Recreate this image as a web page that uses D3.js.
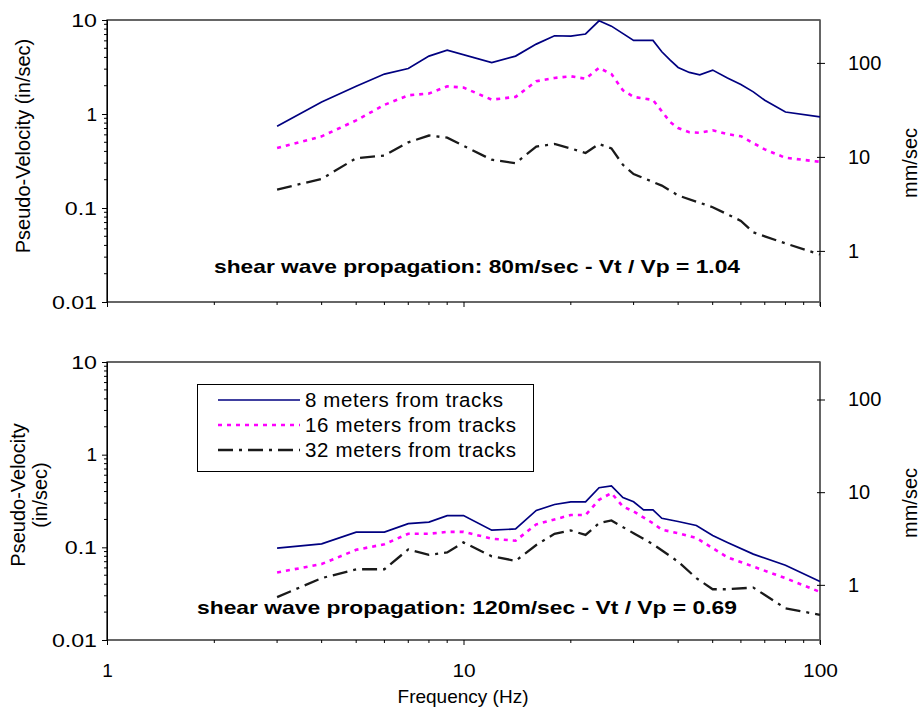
<!DOCTYPE html>
<html><head><meta charset="utf-8">
<script src="https://cdn.jsdelivr.net/npm/d3@7"></script>
<style>
body{margin:0;background:#fff;}
text{font-family:Arial,"Liberation Sans",sans-serif;fill:#000;}
</style></head>
<body><svg id="c" width="920" height="711"></svg>
<script>
// ---- data ----
const seriesNames = ["8 meters from tracks","16 meters from tracks","32 meters from tracks"];
const yTicks = [0.01,0.1,1,10];
const yTickLabels = ["0.01","0.1","1","10"];
const rightTicks = [1,10,100];
const xTicks = [1,10,100];
const topRightDomain = [0.286,286];
const bottomRightDomain = [0.254,254];
const topTitle = "shear wave propagation: 80m/sec - Vt / Vp = 1.04";
const bottomTitle = "shear wave propagation: 120m/sec - Vt / Vp = 0.69";

const top8Freq = [3,4,5,6,7,8,9,12,14,16,18,20,22,24,26,30,34,36,38,40,43,46,50,55,60,65,70,80,100];
const top8Val  = [0.74,1.34,1.97,2.66,3.05,4.13,4.78,3.53,4.13,5.54,6.8,6.75,7.1,9.8,8.6,6.07,6.07,4.59,3.74,3.13,2.77,2.61,2.93,2.42,2.06,1.72,1.40,1.05,0.93];
const top16Freq = [3,4,5,6,7,8,9,10,12,14,16,18,20,22,24,26,28,30,34,38,40,43,46,50,55,60,65,70,80,100];
const top16Val  = [0.434,0.578,0.855,1.25,1.58,1.65,1.97,1.91,1.42,1.52,2.23,2.42,2.52,2.37,3.1,2.66,1.79,1.52,1.41,0.82,0.71,0.64,0.63,0.67,0.61,0.58,0.49,0.42,0.342,0.31];
const top32Freq = [3,4,5,6,7,8,9,12,14,16,18,20,22,24,26,28,30,36,40,50,60,65,70,80,100];
const top32Val  = [0.157,0.204,0.339,0.362,0.50,0.59,0.56,0.326,0.30,0.45,0.48,0.43,0.384,0.48,0.43,0.288,0.23,0.173,0.136,0.102,0.073,0.055,0.05,0.042,0.032];

const bot8Freq = [3,4,5,6,7,8,9,10,12,14,16,18,20,22,24,26,28,30,32,34,36,40,45,50,55,65,80,100];
const bot8Val  = [0.098,0.109,0.146,0.146,0.18,0.187,0.22,0.22,0.153,0.158,0.25,0.29,0.31,0.31,0.44,0.46,0.345,0.31,0.254,0.254,0.206,0.19,0.172,0.134,0.113,0.0845,0.064,0.0428];
const bot16Freq = [3,4,5,6,7,8,9,10,12,14,16,18,20,22,24,26,28,30,34,36,40,45,50,55,65,80,100];
const bot16Val  = [0.0535,0.066,0.094,0.108,0.14,0.14,0.147,0.147,0.124,0.118,0.177,0.20,0.223,0.223,0.326,0.385,0.276,0.244,0.182,0.155,0.142,0.126,0.098,0.078,0.062,0.0465,0.033];
const bot32Freq = [3,4,5,6,7,8,9,10,12,14,16,18,20,22,24,26,30,34,40,45,50,55,65,80,100];
const bot32Val  = [0.029,0.0465,0.058,0.058,0.095,0.083,0.088,0.113,0.080,0.0715,0.106,0.14,0.152,0.136,0.182,0.195,0.142,0.108,0.070,0.0465,0.0353,0.0353,0.0368,0.022,0.0187];

// ---- layout ----
const svg = d3.select("#c");
const L = 107, R = 820;
const x = d3.scaleLog().domain([1,100]).range([L,R]);
const styles = [
  {stroke:"#000080", width:1.7, dash:null},
  {stroke:"#ff00ff", width:2.6, dash:"4,5"},
  {stroke:"#1a1a1a", width:2.3, dash:"15,6,3,6"}
];
const minorY = [];
for (let d=0.01; d<10; d*=10) for (let k=2;k<=9;k++) minorY.push(+(d*k).toPrecision(3));
const minorX = [];
for (let d=1; d<100; d*=10) for (let k=2;k<=9;k++) minorX.push(d*k);

function widen(sel, factor){
  sel.each(function(){
    const n = this.getComputedTextLength();
    if (this.textContent.length > 1) d3.select(this).attr("textLength", n*factor).attr("lengthAdjust","spacingAndGlyphs");
  });
}

function panel(top, bottom, rightDomain, data, title, titleX, titleY, titleLen, yTitleLines, showXLabels, legend){
  const y = d3.scaleLog().domain([0.01,10]).range([bottom, top]);
  const yr = d3.scaleLog().domain(rightDomain).range([bottom, top]);
  const g = svg.append("g");
  // frame
  g.append("rect").attr("x",L).attr("y",top).attr("width",R-L).attr("height",bottom-top)
    .attr("fill","none").attr("stroke","#000").attr("stroke-width",1.2);
  g.append("line").attr("x1",R).attr("x2",R).attr("y1",top).attr("y2",bottom+4).attr("stroke","#666").attr("stroke-width",1.5);
  // left axis
  const la = d3.axisLeft(y).tickValues(yTicks).tickFormat((d,i)=>yTickLabels[i]).tickSize(5).tickPadding(5);
  const lg = g.append("g").attr("transform",`translate(${L},0)`).call(la);
  lg.select(".domain").attr("stroke","#000");
  lg.selectAll("text").attr("font-size",19).style("font-family","Arial, 'Liberation Sans'");
  widen(lg.selectAll("text"), 1.22);
  g.append("g").selectAll("line").data(minorY).join("line")
    .attr("x1",L-3).attr("x2",L).attr("y1",d=>y(d)).attr("y2",d=>y(d)).attr("stroke","#000");
  // right axis
  const ra = d3.axisRight(yr).tickValues(rightTicks).tickFormat(d3.format("d")).tickSize(8).tickPadding(23);
  const rg = g.append("g").attr("transform",`translate(${R-3},0)`).call(ra);
  rg.select(".domain").remove();
  rg.selectAll("text").attr("font-size",20).style("font-family","Arial, 'Liberation Sans'");
  // bottom axis
  const ba = d3.axisBottom(x).tickValues(xTicks).tickFormat(showXLabels? d3.format("d") : "").tickSize(5).tickPadding(19);
  const bg = g.append("g").attr("transform",`translate(0,${bottom})`).call(ba);
  bg.select(".domain").remove();
  bg.selectAll("text").attr("font-size",19).style("font-family","Arial, 'Liberation Sans'");
  widen(bg.selectAll("text"), 1.1);
  g.append("g").selectAll("line").data(minorX).join("line")
    .attr("x1",d=>x(d)).attr("x2",d=>x(d)).attr("y1",bottom).attr("y2",bottom+3).attr("stroke","#000");
  // series
  const line = d3.line().x(d=>x(d[0])).y(d=>y(d[1]));
  data.forEach((s,i)=>{
    const pts = s.f.map((f,j)=>[f,s.v[j]]);
    g.append("path").attr("d",line(pts)).attr("fill","none")
      .attr("stroke",styles[i].stroke).attr("stroke-width",styles[i].width)
      .attr("stroke-dasharray",styles[i].dash);
  });
  // annotation
  g.append("text").attr("x",titleX).attr("y",titleY).attr("font-size",19).attr("font-weight","bold")
    .attr("textLength",titleLen).attr("lengthAdjust","spacingAndGlyphs").text(title);
  // y titles
  const cy = (top+bottom)/2;
  if (yTitleLines.length===1){
    g.append("text").attr("transform",`translate(30,${cy-15}) rotate(-90)`)
      .attr("text-anchor","middle").attr("font-size",20).text(yTitleLines[0]);
  } else {
    yTitleLines.forEach((t,i)=>{
      g.append("text").attr("transform",`translate(${25+i*22},${cy-6}) rotate(-90)`)
        .attr("text-anchor","middle").attr("font-size",20).text(t);
    });
  }
  g.append("text").attr("transform",`translate(917,${cy+2}) rotate(-90)`)
    .attr("text-anchor","middle").attr("font-size",20).text("mm/sec");
  if (legend){
    const lgd = g.append("g");
    lgd.append("rect").attr("x",197.5).attr("y",384.5).attr("width",336).attr("height",87)
      .attr("fill","#fff").attr("stroke","#000").attr("stroke-width",1);
    seriesNames.forEach((n,i)=>{
      const yy = 400 + i*25;
      lgd.append("line").attr("x1",218).attr("x2",300).attr("y1",yy).attr("y2",yy)
        .attr("stroke",styles[i].stroke).attr("stroke-width",styles[i].width)
        .attr("stroke-dasharray",styles[i].dash);
      lgd.append("text").attr("x",305).attr("y",yy+6.5).attr("font-size",20.5)
        .attr("textLength",[198,211,211][i]).attr("lengthAdjust","spacing").text(n);
    });
  }
}

panel(20, 302, topRightDomain,
  [{f:top8Freq,v:top8Val},{f:top16Freq,v:top16Val},{f:top32Freq,v:top32Val}],
  topTitle, 214, 273, 526, ["Pseudo-Velocity (in/sec)"], false, false);
panel(362, 640, bottomRightDomain,
  [{f:bot8Freq,v:bot8Val},{f:bot16Freq,v:bot16Val},{f:bot32Freq,v:bot32Val}],
  bottomTitle, 197, 614, 540, ["Pseudo-Velocity","(in/sec)"], true, true);

svg.append("text").attr("x",463).attr("y",703).attr("text-anchor","middle").attr("font-size",19).text("Frequency (Hz)");
</script></body></html>
